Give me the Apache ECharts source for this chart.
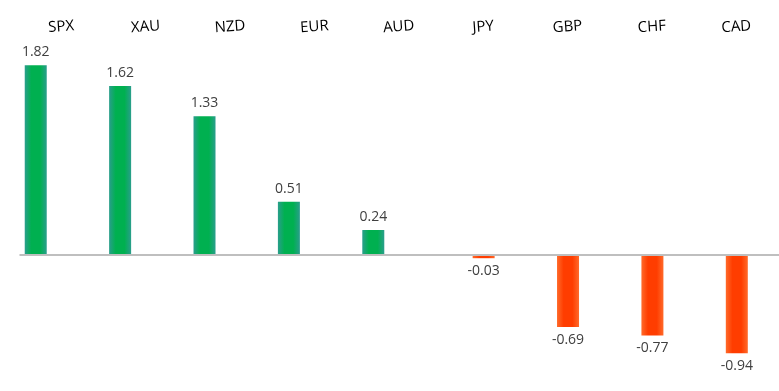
<!DOCTYPE html>
<html>
<head>
<meta charset="utf-8">
<script src="https://cdn.jsdelivr.net/npm/echarts@6/dist/echarts.min.js"></script>
<style>html,body{margin:0;padding:0;background:#fff;}#c{width:779px;height:391px;}</style>
</head>
<body>
<div id="c"></div>
<script>
var categories = ['SPX', 'XAU', 'NZD', 'EUR', 'AUD', 'JPY', 'GBP', 'CHF', 'CAD'];
var values = [1.82, 1.62, 1.33, 0.51, 0.24, -0.03, -0.69, -0.77, -0.94];

var posData = values.map(function (v) { return v >= 0 ? v : '-'; });
var negData = values.map(function (v) { return v < 0 ? v : '-'; });

function grad(edge, mid) {
  return new echarts.graphic.LinearGradient(0, 0, 1, 0, [
    { offset: 0, color: edge }, { offset: 0.3, color: mid },
    { offset: 0.7, color: mid }, { offset: 1, color: edge }
  ]);
}

var chart = echarts.init(document.getElementById('c'), null, { renderer: 'canvas' });
chart.setOption({
  animation: false,
  backgroundColor: '#ffffff',
  textStyle: { fontFamily: 'Open Sans' },
  grid: { left: 19.5, width: 765, top: 46.4, bottom: 31.6, containLabel: false },
  xAxis: {
    type: 'category', data: categories, position: 'top',
    axisLine: { show: false }, axisTick: { show: false },
    axisLabel: { color: '#000', fontSize: 15, rotate: 4, margin: 12, align: 'center', verticalAlign: 'bottom', fontFamily: 'Open Sans' }
  },
  yAxis: {
    type: 'value', min: -1, max: 2, show: false,
    splitLine: { show: false }
  },
  series: [{
    type: 'bar', data: posData, barWidth: 22, barGap: '18%',
    itemStyle: { color: grad('#2a9e8c', '#00b050') },
    label: { show: true, position: 'top', distance: 6, color: '#404040', fontSize: 14, fontFamily: 'Open Sans' },
    markLine: {
      silent: true, symbol: 'none', label: { show: false },
      lineStyle: { color: '#bfbfbf', width: 2, type: 'solid' },
      data: [{ yAxis: 0 }]
    }
  }, {
    type: 'bar', data: negData, barWidth: 22, barGap: '18%',
    itemStyle: { color: grad('#ff6a2a', '#ff3d00') },
    label: { show: true, position: 'bottom', distance: 6, color: '#404040', fontSize: 14, fontFamily: 'Open Sans' }
  }, {
    type: 'bar', data: categories.map(function () { return '-'; }),
    barWidth: 22, barGap: '18%'
  }]
});
</script>
</body>
</html>
